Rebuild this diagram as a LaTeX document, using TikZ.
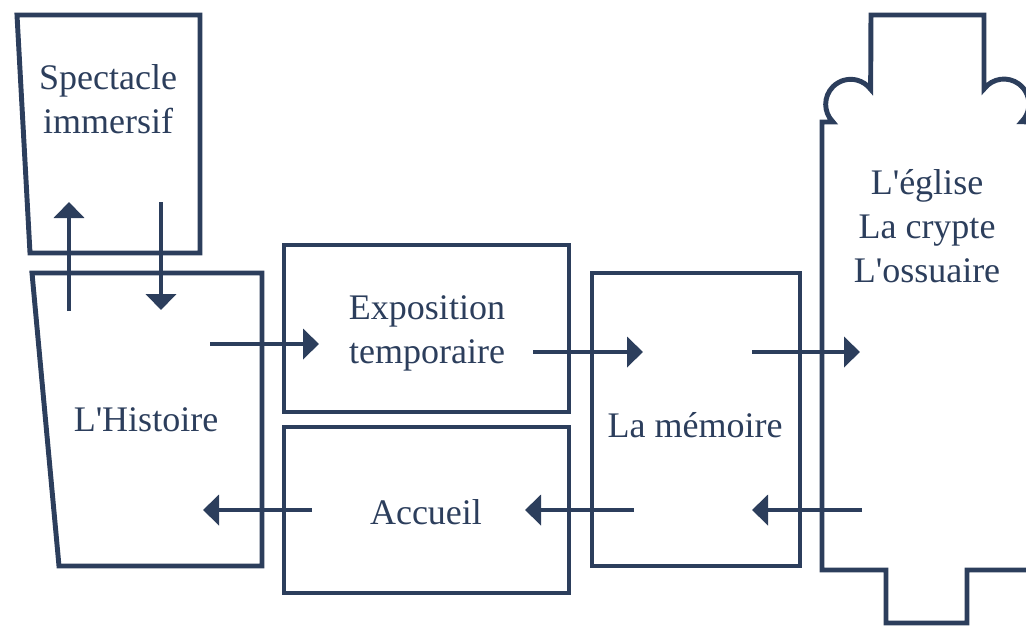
\documentclass[tikz,border=0pt]{standalone}
\usepackage{fontspec}
\setmainfont{Liberation Serif}[Ligatures=TeXOff]
\usetikzlibrary{arrows.meta}
\definecolor{ink}{RGB}{44,62,92}
\begin{document}
\begin{tikzpicture}
[x=0.75pt,y=-0.75pt,
room/.style={draw=ink,line width=3.7pt},
roomtext/.style={text=ink,align=center,font=\fontsize{27}{33}\selectfont},
walk/.style={draw=ink,line width=3.7pt,-{Triangle[width=22.5pt,length=12pt]}}]
\useasboundingbox (0,0) rectangle (1026,626);
% rooms
\draw[room] (17,15) -- (200,15) -- (200,253) -- (30,253) -- cycle;
\draw[room] (32,273) -- (262,273) -- (262,566) -- (59,566) -- cycle;
\draw[room] (284,245) rectangle (569,412);
\draw[room] (284,427) rectangle (569,593);
\draw[room] (592,273) rectangle (800,566);
% church outline
\draw[room] (1034,570) -- (967,570) -- (967,623) -- (886,623) -- (886,570) -- (822,570) -- (822,122) -- (833,122)
  arc[start angle=135,end angle=323,radius=25] -- (871,15) -- (984,15) -- (984,89)
  arc[start angle=217,end angle=405,radius=25] -- (1034,122);

% room names
\node[roomtext] (spectacle) at (108,99) {Spectacle\\immersif};
\node[roomtext] (histoire) at (146,420) {L'Histoire};
\node[roomtext] (expo) at (427,333) {Exposition\\temporaire};
\node[roomtext] (accueil) at (426,512) {Accueil};
\node[roomtext] (memoire) at (695,425) {La mémoire};
\node[roomtext] (eglise) at (927,226) {L'église\\La crypte\\L'ossuaire};

% arrow ends
\coordinate (hist-out) at (69,311);   \coordinate (spec-in) at (69,202);
\coordinate (spec-out) at (161,202);  \coordinate (hist-in) at (161,310);
\coordinate (hist-go) at (210,344);   \coordinate (expo-in) at (319,344);
\coordinate (expo-go) at (533,352);   \coordinate (mem-in) at (643,352);
\coordinate (mem-go) at (752,352);    \coordinate (egl-in) at (860,352);
\coordinate (egl-back) at (862,510);  \coordinate (mem-back) at (752,510);
\coordinate (mem-out) at (634,510);   \coordinate (acc-in) at (525,510);
\coordinate (acc-out) at (312,510);   \coordinate (hist-back) at (203,510);

% circulation
\draw[walk] (hist-out) -- (spec-in);
\draw[walk] (spec-out) -- (hist-in);
\draw[walk] (hist-go) -- (expo-in);
\draw[walk] (expo-go) -- (mem-in);
\draw[walk] (mem-go) -- (egl-in);
\draw[walk] (egl-back) -- (mem-back);
\draw[walk] (mem-out) -- (acc-in);
\draw[walk] (acc-out) -- (hist-back);
\end{tikzpicture}
\end{document}
